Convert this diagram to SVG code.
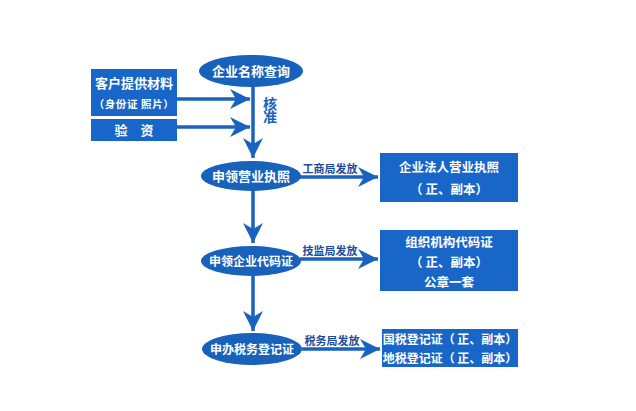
<svg xmlns="http://www.w3.org/2000/svg" width="636" height="411" viewBox="0 0 636 411">
<defs>
<marker id="ah" markerUnits="userSpaceOnUse" markerWidth="20" markerHeight="20" viewBox="0 0 20 20" refX="20" refY="10" orient="auto">
<path d="M0,0 L20,10 L0,20 L6,10 z" fill="#1863c0"/>
</marker>
<style>
.ell{fill:#1862bc}
.box{fill:#1766c8}
.t{font-family:"Noto Sans CJK SC","Noto Sans",sans-serif;fill:#fff;font-weight:bold;text-anchor:middle}
.lbl{font-family:"Noto Sans CJK SC","Noto Sans",sans-serif;fill:#1d4c9e;font-weight:bold;font-size:11px;text-anchor:middle}
.ln{stroke:#1863c0;stroke-width:3.5;fill:none;marker-end:url(#ah)}
.hz{font-family:"Noto Sans CJK SC",sans-serif;font-weight:bold;font-size:14px;fill:#1863c0;writing-mode:vertical-rl;letter-spacing:-1px}
</style>
</defs>
<rect width="636" height="411" fill="#fff"/>
<g id="connectors">
<line class="ln" x1="253" y1="86" x2="253" y2="158"/>
<line class="ln" x1="253" y1="191" x2="253" y2="243"/>
<line class="ln" x1="253" y1="276" x2="253" y2="331"/>
<line class="ln" x1="177" y1="99" x2="250" y2="99"/>
<line class="ln" x1="177" y1="127" x2="250" y2="127"/>
<line class="ln" x1="300" y1="177" x2="378" y2="177"/>
<line class="ln" x1="300" y1="259" x2="378" y2="259"/>
<line class="ln" x1="302" y1="349" x2="380" y2="349"/>
<text class="lbl" x="330" y="173">工商局发放</text>
<text class="lbl" x="330" y="255">技监局发放</text>
<text class="lbl" x="332" y="345">税务局发放</text>
<text class="hz" x="270" y="97">核准</text>
</g>
<g id="n-query">
<ellipse class="ell" cx="251" cy="71" rx="52" ry="16"/>
<text class="t" x="251" y="76" font-size="13">企业名称查询</text>
</g>
<g id="n-client">
<rect class="box" x="91" y="69" width="86" height="47"/>
<text class="t" x="134" y="88" font-size="13">客户提供材料</text>
<text class="t" x="134" y="108" font-size="10.5" letter-spacing="0.6">（身份证 照片）</text>
</g>
<g id="n-capital">
<rect class="box" x="91" y="119" width="86" height="22"/>
<text class="t" x="134" y="135" font-size="13">验　资</text>
</g>
<g id="n-license">
<ellipse class="ell" cx="251" cy="176" rx="50" ry="15"/>
<text class="t" x="251" y="181" font-size="13">申领营业执照</text>
</g>
<g id="n-code">
<ellipse class="ell" cx="251" cy="261" rx="50" ry="15"/>
<text class="t" x="251" y="265.5" font-size="12">申领企业代码证</text>
</g>
<g id="n-tax">
<ellipse class="ell" cx="252" cy="349" rx="50" ry="16"/>
<text class="t" x="252" y="353.5" font-size="12">申办税务登记证</text>
</g>
<g id="n-box1">
<rect class="box" x="380" y="153" width="138" height="49"/>
<text class="t" x="449" y="172" font-size="12.5">企业法人营业执照</text>
<text class="t" x="449" y="194" font-size="12.5">（ 正、副本）</text>
</g>
<g id="n-box2">
<rect class="box" x="380" y="230" width="138" height="61"/>
<text class="t" x="449" y="247" font-size="12.5">组织机构代码证</text>
<text class="t" x="449" y="267" font-size="12.5">（ 正、副本）</text>
<text class="t" x="449" y="287" font-size="12.5">公章一套</text>
</g>
<g id="n-box3">
<rect class="box" x="382" y="329" width="136" height="38"/>
<text class="t" x="450" y="344" font-size="12">国税登记证（ 正、副本）</text>
<text class="t" x="450" y="363" font-size="12">地税登记证（ 正、副本）</text>
</g>
</svg>
